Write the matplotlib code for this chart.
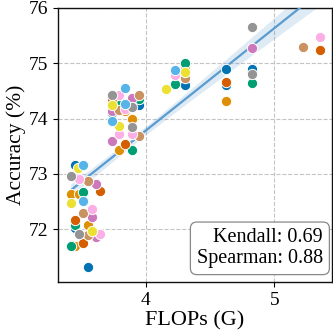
import numpy as np
import matplotlib
matplotlib.use("Agg")
import matplotlib.pyplot as plt

plt.rcParams['font.family'] = ['Liberation Serif', 'DejaVu Serif']

palette = ['#0173b2', '#de8f05', '#029e73', '#d55e00', '#cc78bc',
           '#ca9161', '#fbafe4', '#949494', '#ece133', '#56b4e9']

# series per colour (FLOPs in G, accuracy in %)
flops_0 = [3.445, 3.445, 3.548, 3.947, 4.309, 4.626, 4.626, 4.829]
acc_0 = [73.16, 72.03, 71.31, 74.25, 74.60, 74.60, 74.89, 74.89]
flops_1 = [3.414, 3.478, 3.548, 3.445, 3.894, 3.790, 3.842, 4.309, 4.626]
acc_1 = [72.63, 72.63, 72.07, 71.69, 73.99, 73.44, 74.14, 74.92, 74.31]
flops_2 = [3.514, 3.445, 3.414, 3.790, 3.947, 3.894, 3.737, 4.309, 4.230, 4.829]
acc_2 = [72.67, 72.08, 71.69, 74.32, 74.35, 73.44, 74.10, 75.01, 74.63, 74.64]
flops_3 = [3.647, 3.445, 3.514, 3.737, 3.842, 4.626, 5.359]
acc_3 = [72.69, 72.17, 71.76, 74.35, 73.55, 74.66, 75.24]
flops_4 = [3.613, 3.582, 3.613, 3.894, 3.737, 3.737, 4.829]
acc_4 = [72.82, 72.22, 71.86, 74.38, 74.14, 73.60, 75.28]
flops_5 = [3.548, 3.514, 3.548, 3.947, 3.790, 3.947, 4.309, 5.224]
acc_5 = [72.88, 72.29, 71.89, 74.42, 74.15, 73.68, 74.73, 75.30]
flops_6 = [3.483, 3.582, 3.647, 3.790, 3.842, 3.790, 3.894, 4.230, 5.359]
acc_6 = [72.91, 72.37, 71.91, 74.42, 74.18, 73.73, 73.73, 74.78, 75.48]
flops_7 = [3.414, 3.483, 3.737, 3.894, 3.894, 4.829, 4.829]
acc_7 = [72.96, 71.92, 74.43, 74.21, 73.85, 75.65, 74.80]
flops_8 = [3.470, 3.414, 3.582, 3.737, 3.790, 4.159, 4.309]
acc_8 = [73.11, 72.47, 71.97, 74.24, 73.87, 74.54, 74.84]
flops_9 = [3.514, 3.514, 3.842, 3.842, 3.737, 4.230]
acc_9 = [73.16, 72.52, 74.56, 74.26, 73.96, 74.87]

series_flops = [flops_0, flops_1, flops_2, flops_3, flops_4,
                flops_5, flops_6, flops_7, flops_8, flops_9]
series_acc = [acc_0, acc_1, acc_2, acc_3, acc_4,
              acc_5, acc_6, acc_7, acc_8, acc_9]

kendall = 0.69
spearman = 0.88

fig = plt.figure(figsize=(3.33, 3.32), dpi=100)
ax = fig.add_axes([0.174, 0.151, 0.823, 0.825])

all_x = np.concatenate([np.array(f) for f in series_flops])
all_y = np.concatenate([np.array(a) for a in series_acc])

# regression with confidence band
n = len(all_x)
coef = np.polyfit(all_x, all_y, 1)
xs = np.linspace(all_x.min(), all_x.max(), 200)
ys = np.polyval(coef, xs)
resid = all_y - np.polyval(coef, all_x)
s = np.sqrt(np.sum(resid ** 2) / (n - 2))
xm = all_x.mean()
sxx = np.sum((all_x - xm) ** 2)
se = s * np.sqrt(1.0 / n + (xs - xm) ** 2 / sxx)
line_color = '#5a9bd0'
ax.fill_between(xs, ys - 1.0 * se, ys + 1.0 * se, color=line_color,
                alpha=0.2, lw=0, zorder=2)
ax.plot(xs, ys, color=line_color, lw=1.6, zorder=3)

for i, (fx, ay) in enumerate(zip(series_flops, series_acc)):
    ax.scatter(fx, ay, s=55, color=palette[i], edgecolors='white',
               linewidths=0.7, zorder=4)

ax.set_ylim(71.05, 76)
ax.set_xlim(3.316, 5.45)
ax.set_xticks([4, 5])
ax.set_yticks([72, 73, 74, 75, 76])
ax.tick_params(labelsize=14, length=3.5, width=0.8)
ax.grid(True, ls='--', color='#c4c4c4', lw=0.8)
ax.set_axisbelow(True)
ax.set_xlabel('FLOPs (G)', fontsize=16, labelpad=2)
ax.set_ylabel('Accuracy (%)', fontsize=15.5, labelpad=2)
for sp in ax.spines.values():
    sp.set_color('#111111')
    sp.set_linewidth(1.0)

ax.text(0.967, 0.05, f'Kendall: {kendall:.2f}\nSpearman: {spearman:.2f}',
        transform=ax.transAxes, ha='right', va='bottom', fontsize=14.5,
        linespacing=1.12,
        bbox=dict(boxstyle='round,pad=0.32', fc='white', ec='#888888', lw=0.9),
        zorder=6)

fig.savefig('out.png', dpi=100)
